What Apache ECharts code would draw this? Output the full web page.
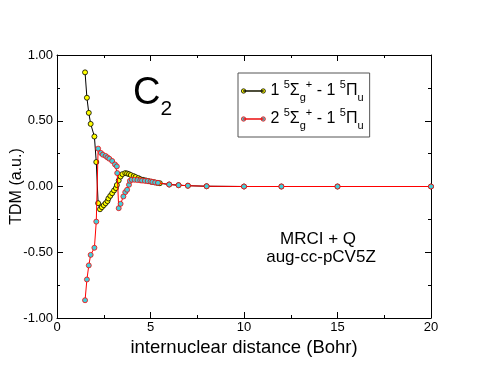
<!DOCTYPE html>
<html>
<head>
<meta charset="utf-8">
<script src="https://cdn.jsdelivr.net/npm/echarts@6/dist/echarts.min.js"></script>
<style>
  html, body { margin: 0; padding: 0; background: #fff; }
  #chart { width: 485px; height: 375px; }
</style>
</head>
<body>
<div id="chart"></div>
<script>
// ── Data ────────────────────────────────────────────────────────────────
// state 1: 1 5Σg+ - 1 5Πu (black line, yellow dots)
const s1X = [1.5, 1.6, 1.7, 1.8, 2.0, 2.1, 2.2, 2.3, 2.4, 2.5, 2.6, 2.7, 2.75, 2.85, 2.95, 3.05, 3.15,
  3.2, 3.3, 3.4, 3.5, 3.65, 3.75, 3.85, 3.95, 4.1, 4.2, 4.35, 4.45, 4.6, 4.75, 4.9, 5.05, 5.2, 5.35, 5.5,
  6, 6.5, 7, 8, 10, 12, 15, 20];
const s1Y = [0.868, 0.675, 0.56, 0.476, 0.38, 0.186, -0.127, -0.173, -0.157, -0.142, -0.127, -0.111, -0.091, -0.071, -0.051, -0.030, -0.012,
  0.011, 0.046, 0.076, 0.094, 0.102, 0.099, 0.094, 0.087, 0.079, 0.072, 0.064, 0.056, 0.051, 0.046, 0.041, 0.036, 0.032, 0.028, 0.025,
  0.015, 0.010, 0.006, 0.002, 0, 0, 0, 0];

// state 2: 2 5Σg+ - 1 5Πu (red line, cyan dots)
const s2X = [1.5, 1.6, 1.7, 1.8, 2.0, 2.1, 2.2, 2.35, 2.45, 2.6, 2.7, 2.8, 2.95, 3.1, 3.2, 3.22,
  3.3, 3.4, 3.55, 3.65, 3.75, 3.85, 3.9, 4.0, 4.15, 4.3, 4.45, 4.55, 4.7, 4.85, 5.0, 5.1, 5.25, 5.4,
  6, 6.5, 7, 8, 10, 12, 15, 20];
const s2Y = [-0.865, -0.707, -0.60, -0.52, -0.466, -0.267, 0.288, 0.255, 0.242, 0.232, 0.221, 0.211, 0.194, 0.168, 0.153, 0.102,
  -0.165, -0.132, -0.076, -0.043, -0.025, 0.013, 0.043, 0.051, 0.051, 0.049, 0.047, 0.045, 0.043, 0.041, 0.038, 0.035, 0.031, 0.028,
  0.015, 0.010, 0.006, 0.002, 0, 0, 0, 0];

const seriesNames = ['s1', 's2'];
const xTicks = [0, 5, 10, 15, 20];
const yTicks = [-1, -0.5, 0, 0.5, 1];

const FONT = '"Liberation Sans", Arial, sans-serif';

const pairs = (xs, ys) => xs.map((x, i) => [x, ys[i]]);

// rich text pieces for the legend labels (superscripts / subscripts)
const rich = {
  n:   { fontFamily: FONT, fontSize: 16, color: '#000', lineHeight: 28, verticalAlign: 'middle' },
  sup: { fontFamily: FONT, fontSize: 11, color: '#000', lineHeight: 28, verticalAlign: 'top', padding: [2, 0, 0, 0] },
  sub: { fontFamily: FONT, fontSize: 11, color: '#000', lineHeight: 28, verticalAlign: 'bottom', padding: [0, 0, 2, 0] },
};
const legendText = {
  s1: '{n|1 }{sup|5}{n|Σ}{sub|g}{sup|+}{n| - 1 }{sup|5}{n|Π}{sub|u}',
  s2: '{n|2 }{sup|5}{n|Σ}{sub|g}{sup|+}{n| - 1 }{sup|5}{n|Π}{sub|u}',
};

// legend glyph: short line with a dot at each end
const LEGEND_ICON = 'path://M2,4.2 L22,4.2 L22,4.8 L2,4.8 Z M0,4.5 A2.2,2.2 0 1 0 4.4,4.5 A2.2,2.2 0 1 0 0,4.5 Z M19.6,4.5 A2.2,2.2 0 1 0 24,4.5 A2.2,2.2 0 1 0 19.6,4.5 Z';

const chart = echarts.init(document.getElementById('chart'), null, { renderer: 'canvas' });

const axisCommon = {
  min: 0, max: 20, interval: 5,
  axisLine: { show: true, onZero: false, lineStyle: { color: '#000', width: 1 } },
  axisTick: { show: true, inside: true, length: 6, lineStyle: { color: '#000' } },
  minorTick: { show: true, splitNumber: 2, length: 3, lineStyle: { color: '#000' } },
  splitLine: { show: false },
};

chart.setOption({
  animation: false,
  backgroundColor: '#fff',
  grid: { left: 57, right: 54, top: 55, bottom: 57, containLabel: false, outerBoundsMode: 'none' },
  title: {
    text: '{c|C}{s|2}',
    left: 128, top: 62,
    textStyle: {
      rich: {
        c: { fontFamily: FONT, fontSize: 38, fontWeight: 'normal', color: '#000', lineHeight: 46, verticalAlign: 'bottom' },
        s: { fontFamily: FONT, fontSize: 21, fontWeight: 'normal', color: '#000', lineHeight: 46, verticalAlign: 'bottom', padding: [0, 0, -7, 0] },
      },
    },
  },
  legend: {
    orient: 'vertical',
    left: 238, top: 73,
    padding: [4, 6, 4, 3],
    itemGap: 0,
    itemWidth: 24, itemHeight: 5,
    backgroundColor: '#fff',
    borderColor: '#555', borderWidth: 1,
    data: [
      { name: seriesNames[0], icon: LEGEND_ICON, itemStyle: { color: '#ffff00', borderColor: '#000', borderWidth: 0.8 } },
      { name: seriesNames[1], icon: LEGEND_ICON, itemStyle: { color: '#40d0dc', borderColor: '#ff0000', borderWidth: 0.8 } },
    ],
    formatter: (name) => legendText[name],
    textStyle: { rich },
  },
  xAxis: [
    Object.assign({}, axisCommon, {
      type: 'value', position: 'bottom',
      name: 'internuclear distance (Bohr)', nameLocation: 'middle', nameGap: 15,
      nameTextStyle: { fontFamily: FONT, fontSize: 18.5, color: '#000' },
      axisLabel: {
        fontFamily: FONT, fontSize: 13, color: '#000', margin: 3,
        customValues: xTicks,
      },
    }),
    Object.assign({}, axisCommon, {
      type: 'value', position: 'top', axisLabel: { show: false },
    }),
  ],
  yAxis: [
    Object.assign({}, axisCommon, {
      type: 'value', position: 'left', min: -1, max: 1, interval: 0.5,
      name: 'TDM (a.u.)', nameLocation: 'middle', nameGap: 32, nameRotate: 90, nameMoveOverlap: false,
      nameTextStyle: { fontFamily: FONT, fontSize: 16, color: '#000' },
      axisLabel: {
        fontFamily: FONT, fontSize: 13, color: '#000', margin: 4,
        customValues: yTicks,
        formatter: (v) => v.toFixed(2),
      },
    }),
    Object.assign({}, axisCommon, {
      type: 'value', position: 'right', min: -1, max: 1, interval: 0.5,
      axisLabel: { show: false },
    }),
  ],
  series: [
    {
      name: 's1', type: 'line', data: pairs(s1X, s1Y),
      symbol: 'circle', symbolSize: 5, showSymbol: true,
      lineStyle: { color: '#000', width: 1 },
      itemStyle: { color: '#ffff00', borderColor: '#000', borderWidth: 0.8 },
      z: 2,
    },
    {
      name: 's2', type: 'line', data: pairs(s2X, s2Y),
      symbol: 'circle', symbolSize: 5, showSymbol: true,
      lineStyle: { color: '#ff0000', width: 1 },
      itemStyle: { color: '#40d0dc', borderColor: '#ff0000', borderWidth: 0.8 },
      z: 3,
    },
  ],
  graphic: [
    {
      type: 'text', x: 318, y: 231,
      style: { text: 'MRCI + Q', fontFamily: FONT, fontSize: 17, fill: '#000', textAlign: 'center' },
    },
    {
      type: 'text', x: 321, y: 249,
      style: { text: 'aug-cc-pCV5Z', fontFamily: FONT, fontSize: 17, fill: '#000', textAlign: 'center' },
    },
  ],
});
</script>
</body>
</html>
